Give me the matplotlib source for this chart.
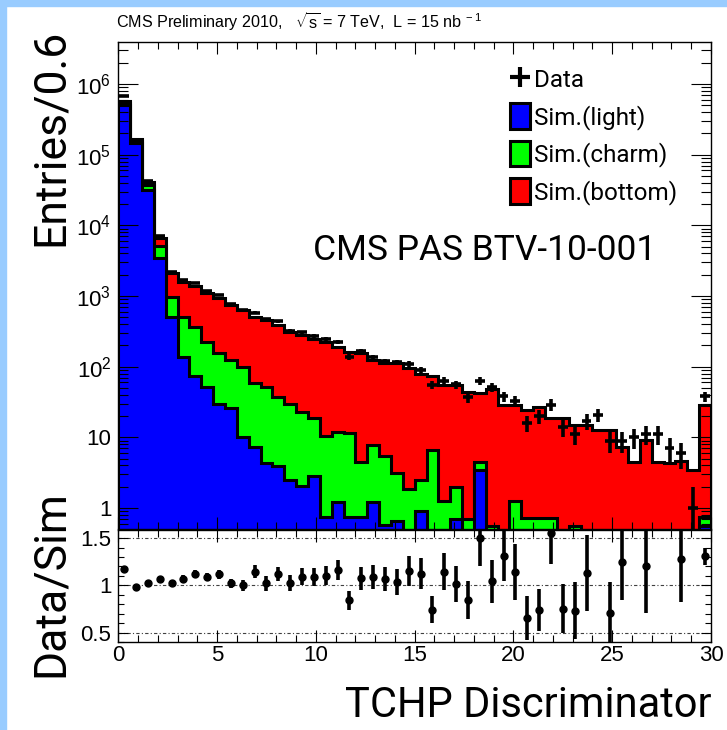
import numpy as np
import matplotlib
matplotlib.use('Agg')
import matplotlib.pyplot as plt
import matplotlib.patches as mpatches
from matplotlib.lines import Line2D
from matplotlib.ticker import FixedLocator, MultipleLocator, LogLocator, NullFormatter

plt.rcParams['font.family'] = 'Liberation Sans'
plt.rcParams['mathtext.fontset'] = 'custom'
plt.rcParams['mathtext.rm'] = 'Liberation Sans'
plt.rcParams['mathtext.it'] = 'Liberation Sans:italic'
plt.rcParams['mathtext.bf'] = 'Liberation Sans:bold'

# TCHP discriminator, 50 bins of width 0.6
x_lo, x_hi, n_bins = 0.0, 30.0, 50

sim_light = [510000, 145000, 32000, 3500, 505, 138, 74, 52, 30, 26,
             10, 7.4, 4.3, 3.9, 2.5, 2.05, 2.8, 0.75, 1.23, 0.75,
             0.75, 1.23, 0.57, 0.66, 0, 0.92, 0, 0, 0.71, 0,
             3.5, 0, 0, 0, 0, 0, 0, 0, 0, 0,
             0, 0, 0, 0, 0, 0, 0, 0, 0, 0.55]
sim_charm = [35000, 13000, 5500, 1600, 475, 372, 296, 173, 125, 98,
             90, 50.6, 47.7, 33.1, 27, 20.5, 16.2, 9.6, 10.5, 10.9,
             3.75, 6.6, 4.9, 2.5, 1.84, 1.58, 6.6, 1.27, 1.29, 0.71,
             1.0, 0.56, 0, 1.26, 0.73, 0.73, 0.73, 0, 0.55, 0,
             0, 0, 0, 0, 0, 0, 0, 0, 0, 0.19]
sim_bottom = [25000, 8000, 3500, 1500, 1120, 1080, 1020, 865, 775, 621,
              535, 452, 406, 353, 285, 257, 231, 215, 180, 152,
              150, 116, 106, 108, 93, 77.5, 67.4, 53.7, 53, 43.3,
              37.5, 48.4, 29, 27.7, 23.8, 26.3, 17.9, 18.6, 14.5, 15,
              12.7, 12.7, 7.2, 4.5, 9.1, 4.5, 4.3, 4.7, 3.45, 28.3]
data_counts = [667000, 163700, 41800, 7020, 2163, 1697, 1553, 1188, 1039, 760,
               635, 584, 467, 437, 321, 305, 271, 248, 223, 138,
               166, 135, 119, 115, 109, 90, 55, 63, 56, 37,
               63, 51, 38, 33, 16, 20, 29, 14, 11, 17,
               21, 9, 9, 10, 11, 11, 7, 6, 1, 38]
ratio_err = [0.006, 0.01, 0.012, 0.02, 0.03, 0.04, 0.04, 0.045, 0.045, 0.05,
             0.055, 0.065, 0.075, 0.07, 0.085, 0.09, 0.095, 0.1, 0.11, 0.1,
             0.12, 0.13, 0.13, 0.14, 0.16, 0.16, 0.14, 0.2, 0.19, 0.2,
             0.3, 0.23, 0.26, 0.3, 0.23, 0.22, 0.33, 0.26, 0.3, 0.4,
             0.45, 0.33, 0.4, 0.6, 0.5, 0.6, 0.55, 0.45, 1.0, 0.09]

legend_labels = ['Data', 'Sim.(light)', 'Sim.(charm)', 'Sim.(bottom)']
colors = {'light': '#0000ff', 'charm': '#00ff00', 'bottom': '#ff0000'}

ytick_vals = [1, 10, 1e2, 1e3, 1e4, 1e5, 1e6]
ytick_labels = ['1', '10', '$10^{2}$', '$10^{3}$', '$10^{4}$', '$10^{5}$', '$10^{6}$']
rtick_vals = [0.5, 1.0, 1.5]
rtick_labels = ['0.5', '1', '1.5']

edges = np.linspace(x_lo, x_hi, n_bins + 1)
centers = 0.5 * (edges[1:] + edges[:-1])
light = np.array(sim_light, float)
light_charm = light + np.array(sim_charm, float)
total = light_charm + np.array(sim_bottom, float)
data = np.array(data_counts, float)

W, H = 727, 730
fig = plt.figure(figsize=(W / 100, H / 100), dpi=100)
fig.patch.set_facecolor('white')
# slide border
fig.patches.append(mpatches.Rectangle((0, 0), 6 / W, 1, transform=fig.transFigure,
                                      color='#99ccff', zorder=0))
fig.patches.append(mpatches.Rectangle((0, 1 - 6 / H), 1, 6 / H, transform=fig.transFigure,
                                      color='#99ccff', zorder=0))

ax = fig.add_axes([118.3 / W, 1 - 529 / H, (711 - 118.3) / W, (529 - 42) / H])
rax = fig.add_axes([118.3 / W, 1 - 642 / H, (711 - 118.3) / W, (642 - 530) / H])

# stacked histogram, drawn from the sum downward
floor = 1e-3
for vals, col in [(total, colors['bottom']), (light_charm, colors['charm']), (light, colors['light'])]:
    ax.stairs(np.where(vals > 0, vals, floor), edges, baseline=floor, fill=True,
              facecolor=col, edgecolor='k', linewidth=2.2)

derr = np.sqrt(data)
ax.errorbar(centers, data, yerr=[np.minimum(derr, data * 0.999), derr], xerr=0.25,
            fmt='none', ecolor='k', elinewidth=2.6, capsize=0, zorder=5)

ax.set_yscale('log')
ax.set_xlim(x_lo, x_hi)
ax.set_ylim(0.505, 3.93e6)
ax.yaxis.set_major_locator(FixedLocator(ytick_vals))
ax.set_yticklabels(ytick_labels)
ax.yaxis.set_minor_locator(LogLocator(base=10, subs=np.arange(2, 10), numticks=30))
ax.yaxis.set_minor_formatter(NullFormatter())
ax.xaxis.set_major_locator(MultipleLocator(5))
ax.xaxis.set_minor_locator(MultipleLocator(1))
ax.tick_params(axis='both', which='both', direction='in', top=True, right=True, width=0.8)
ax.tick_params(axis='y', which='major', length=14.4, labelsize=16, pad=5)
ax.tick_params(axis='y', which='minor', length=7)
ax.tick_params(axis='x', which='major', length=8.6, labelbottom=False)
ax.tick_params(axis='x', which='minor', length=5)
for s in ax.spines.values():
    s.set_linewidth(1.0)

handles = [Line2D([], [], ls='none', marker='+', ms=15, mew=3, color='k'),
           mpatches.Patch(facecolor=colors['light'], edgecolor='k', lw=2.2),
           mpatches.Patch(facecolor=colors['charm'], edgecolor='k', lw=2.2),
           mpatches.Patch(facecolor=colors['bottom'], edgecolor='k', lw=2.2)]
ax.legend(handles, legend_labels, loc='upper left', bbox_to_anchor=(0.661, 0.950),
          frameon=False, prop={'family': 'Roboto', 'size': 17.5},
          handlelength=0.83, handleheight=1.24, handletextpad=0.15,
          labelspacing=0.45, borderpad=0, borderaxespad=0)

ax.text((313 - 118.3) / 592.7, 1 - (260 - 42) / 487, 'CMS PAS BTV-10-001',
        transform=ax.transAxes, family='Roboto', fontsize=25.5, ha='left', va='baseline')

# ratio panel
ratio = data / total
r_lo, r_hi = 0.40, 1.586
show = (ratio > r_lo) & (ratio < r_hi)
for v in rtick_vals:
    rax.axhline(v, color='0.25', lw=0.8, ls=(0, (3, 2, 1, 2)), zorder=1)
rax.errorbar(centers[show], ratio[show], yerr=np.array(ratio_err)[show], fmt='o',
             color='k', ms=5, elinewidth=2.6, capsize=0, zorder=3)
rax.set_xlim(x_lo, x_hi)
rax.set_ylim(r_lo, r_hi)
rax.yaxis.set_major_locator(FixedLocator(rtick_vals))
rax.set_yticklabels(rtick_labels)
rax.yaxis.set_minor_locator(MultipleLocator(0.1))
rax.xaxis.set_major_locator(MultipleLocator(5))
rax.xaxis.set_minor_locator(MultipleLocator(1))
rax.tick_params(axis='both', which='both', direction='in', top=True, right=True, width=0.8)
rax.tick_params(axis='both', which='major', labelsize=16)
rax.tick_params(axis='y', which='major', length=7, pad=5)
rax.tick_params(axis='y', which='minor', length=4.5)
rax.tick_params(axis='x', which='major', length=8.6, pad=2)
rax.tick_params(axis='x', which='minor', length=5)
for s in rax.spines.values():
    s.set_linewidth(1.0)

# titles
fig.text(116 / W, 1 - 28 / H,
         r'CMS Preliminary 2010,   $\sqrt{\mathrm{s}}$ = 7 TeV,  L = 15 nb$^{\ -1}$',
         fontsize=11.6, ha='left', va='baseline')
fig.text(63 / W, 1 - 137.5 / H, 'Entries/0.6', rotation=90, rotation_mode='anchor',
         family='Roboto', fontsize=32, ha='center', va='baseline')
fig.text(63 / W, 1 - 584 / H, 'Data/Sim', rotation=90, rotation_mode='anchor',
         family='Roboto', fontsize=32, ha='center', va='baseline')
fig.text(712 / W, 1 - 717 / H, 'TCHP Discriminator', family='Roboto', fontsize=30,
         ha='right', va='baseline')

fig.savefig('out.png', dpi=100)
